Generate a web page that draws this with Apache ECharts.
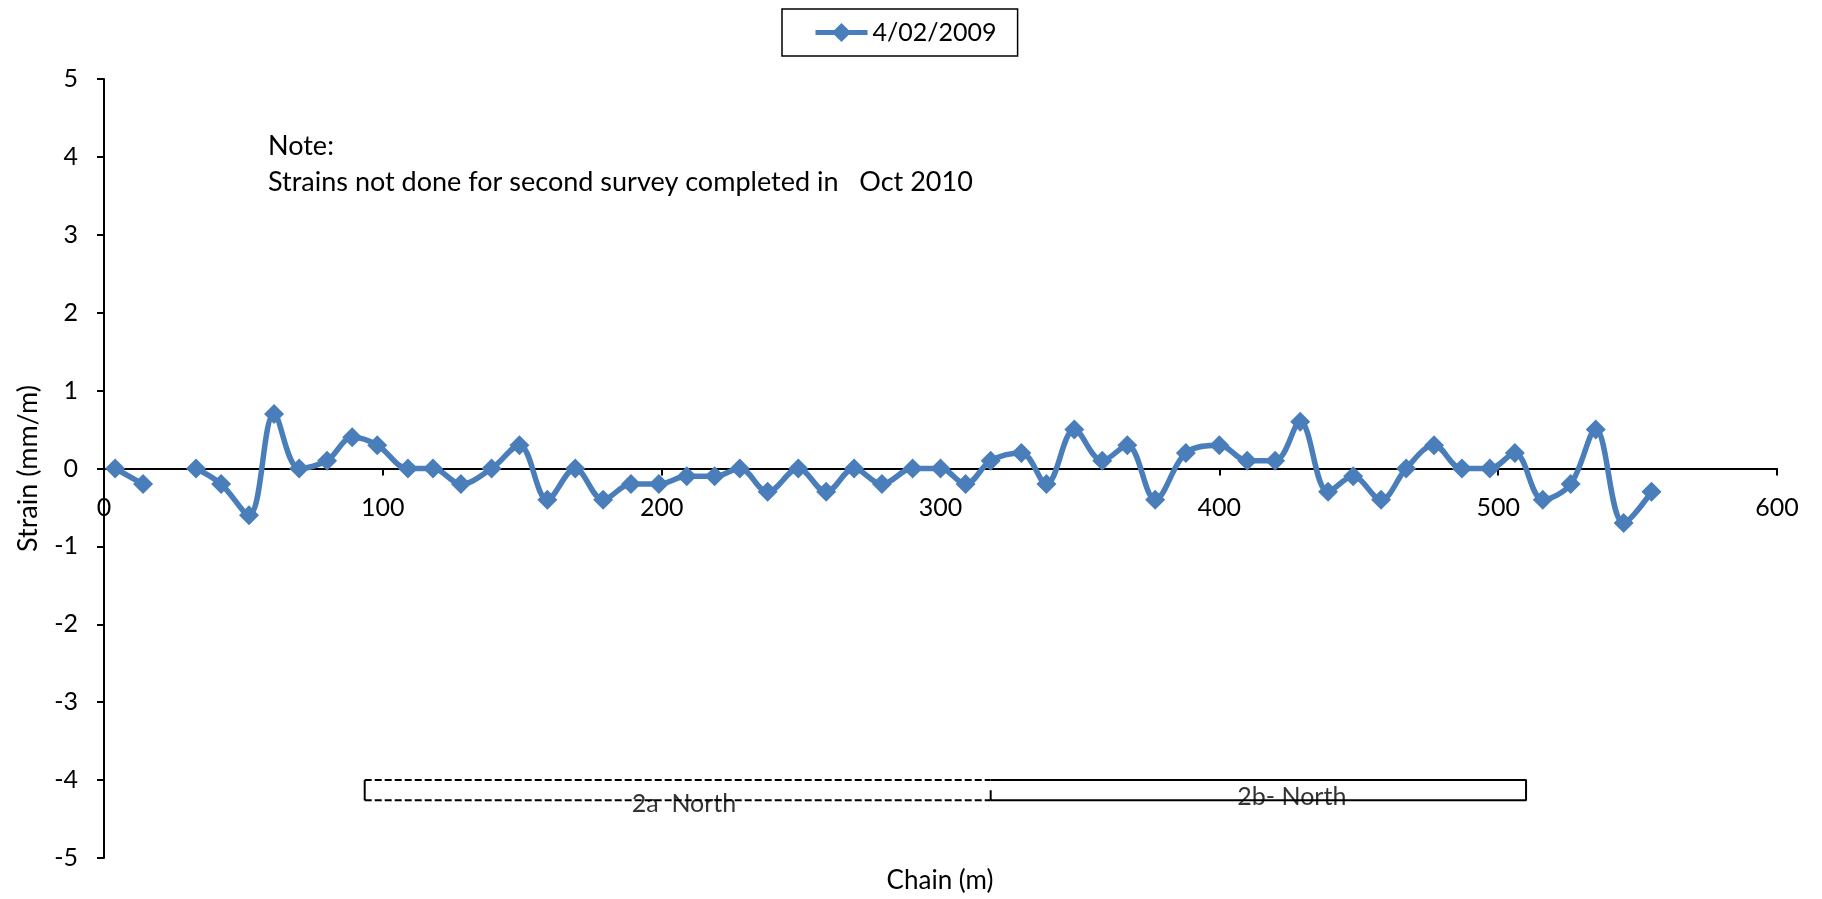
<!DOCTYPE html>
<html>
<head>
<meta charset="utf-8">
<script src="https://cdn.jsdelivr.net/npm/echarts@6/dist/echarts.min.js"></script>
<style>
html,body{margin:0;padding:0;background:#fff;}
#chart{width:1822px;height:899px;}
</style>
</head>
<body>
<div id="chart"></div>
<script>
// ---- data ----
var seriesName = '4/02/2009';
var chain  = [4, 14, 24, 33, 42, 52, 61, 70, 80, 89, 98, 109, 118, 128, 139, 149, 159, 169, 179, 189, 199, 209, 219, 228, 238, 249, 259, 269, 279, 290, 300, 309, 318, 329, 338, 348, 358, 367, 377, 388, 400, 410, 420, 429, 439, 448, 458, 467, 477, 487, 497, 506, 516, 526, 535, 545, 555];
var strain = [0, -0.2, null, 0, -0.2, -0.6, 0.7, 0, 0.1, 0.4, 0.3, 0, 0, -0.2, 0, 0.3, -0.4, 0, -0.4, -0.2, -0.2, -0.1, -0.1, 0, -0.3, 0, -0.3, 0, -0.2, 0, 0, -0.2, 0.1, 0.2, -0.2, 0.5, 0.1, 0.3, -0.4, 0.2, 0.3, 0.1, 0.1, 0.6, -0.3, -0.1, -0.4, 0, 0.3, 0, 0, 0.2, -0.4, -0.2, 0.5, -0.7, -0.3];
var xTicks = [0, 100, 200, 300, 400, 500, 600];
var yTicks = [-5, -4, -3, -2, -1, 0, 1, 2, 3, 4, 5];
var zoneX = [93.5, 318, 510];          // left edge, divider, right edge (chain, m)
var zoneTop = -4, zoneBottom = -4.26, zoneDividerTop = -4.13;
var zoneLabels = ['2a  North', '2b- North'];
var zoneLabelX = [208, 426];
var zoneLabelY = [-4.3, -4.21];
var noteLines = ['Note:', 'Strains not done for second survey completed in   Oct 2010'];
var xName = 'Chain (m)';
var yName = 'Strain (mm/m)';

// ---- build ----
var FONT = 'Lato';
var FS = 25;
var blue = '#4a7ebb';
var GRID_TOP = 79, GRID_BOTTOM = 41, H = 899;
var zeroOffset = -((H - GRID_BOTTOM) - (GRID_TOP + (H - GRID_TOP - GRID_BOTTOM) *
  (yTicks[yTicks.length - 1] / (yTicks[yTicks.length - 1] - yTicks[0]))));
var mainData = chain.map(function (c, i) { return [c, strain[i] === null ? '-' : strain[i]]; });

function seg(points, dashed) {
  return {
    type: 'line', data: points, symbol: 'none', silent: true, animation: false,
    lineStyle: { color: '#000', width: 2, type: dashed ? [7, 3] : 'solid' },
    z: 1
  };
}
var boxSeries = [
  seg([[zoneX[0], zoneTop], [zoneX[1], zoneTop]], true),
  seg([[zoneX[0], zoneBottom], [zoneX[1], zoneBottom]], true),
  seg([[zoneX[1], zoneTop], [zoneX[2], zoneTop], [zoneX[2], zoneBottom], [zoneX[1], zoneBottom]], false),
  seg([[zoneX[0], zoneTop], [zoneX[0], zoneBottom]], false),
  seg([[zoneX[1], zoneDividerTop], [zoneX[1], zoneBottom]], false)
];
var labelSeries = {
  type: 'scatter', silent: true, animation: false, symbolSize: 0,
  data: zoneLabels.map(function (t, i) { return { name: t, value: [zoneLabelX[i], zoneLabelY[i]] }; }),
  label: { show: true, position: 'inside', formatter: '{b}', color: '#000', fontFamily: FONT, fontSize: FS },
  z: 3
};

var chart = echarts.init(document.getElementById('chart'));
chart.setOption({
  animation: false,
  textStyle: { fontFamily: FONT },
  grid: { left: 104, right: 45, top: GRID_TOP, bottom: GRID_BOTTOM, containLabel: false, outerBoundsMode: 'none' },
  legend: {
    data: [seriesName],
    left: 782, top: 9,
    padding: [11, 21, 11, 31],
    borderColor: '#000', borderWidth: 1.5,
    itemWidth: 52, itemHeight: 24,
    lineStyle: { width: 5 },
    textStyle: { fontFamily: FONT, fontSize: FS, color: '#000' }
  },
  graphic: noteLines.map(function (t, i) {
    return { type: 'text', left: 268, top: 133 + i * 36,
      style: { text: t, font: '27px ' + FONT, fill: '#000' } };
  }).concat([{
    type: 'text', x: 940, y: 881,
    style: { text: xName, font: '26px ' + FONT, fill: '#000', align: 'center', verticalAlign: 'middle' }
  }]),
  xAxis: {
    type: 'value', min: xTicks[0], max: xTicks[xTicks.length - 1], interval: 100,
    offset: zeroOffset,
    axisLine: { onZero: false, lineStyle: { color: '#000', width: 2 } },
    axisTick: { length: 7, lineStyle: { color: '#000', width: 2 } },
    axisLabel: { color: '#000', fontSize: FS, fontFamily: FONT, margin: 27 },
    splitLine: { show: false }
  },
  yAxis: {
    type: 'value', min: yTicks[0], max: yTicks[yTicks.length - 1], interval: 1,
    axisLine: { show: true, onZero: false, lineStyle: { color: '#000', width: 2 } },
    axisTick: { show: true, length: 7, lineStyle: { color: '#000', width: 2 } },
    axisLabel: { color: '#000', fontSize: FS, fontFamily: FONT, margin: 26 },
    splitLine: { show: false },
    name: yName, nameLocation: 'middle', nameGap: 62, nameRotate: 90,
    nameTextStyle: { color: '#000', fontSize: 27, fontFamily: FONT }
  },
  series: [{
    name: seriesName, type: 'line', data: mainData, connectNulls: false,
    smooth: 0.35, symbol: 'diamond', symbolSize: 20,
    lineStyle: { color: blue, width: 5.5 },
    itemStyle: { color: blue },
    z: 5
  }].concat(boxSeries).concat([labelSeries])
});
</script>
</body>
</html>
